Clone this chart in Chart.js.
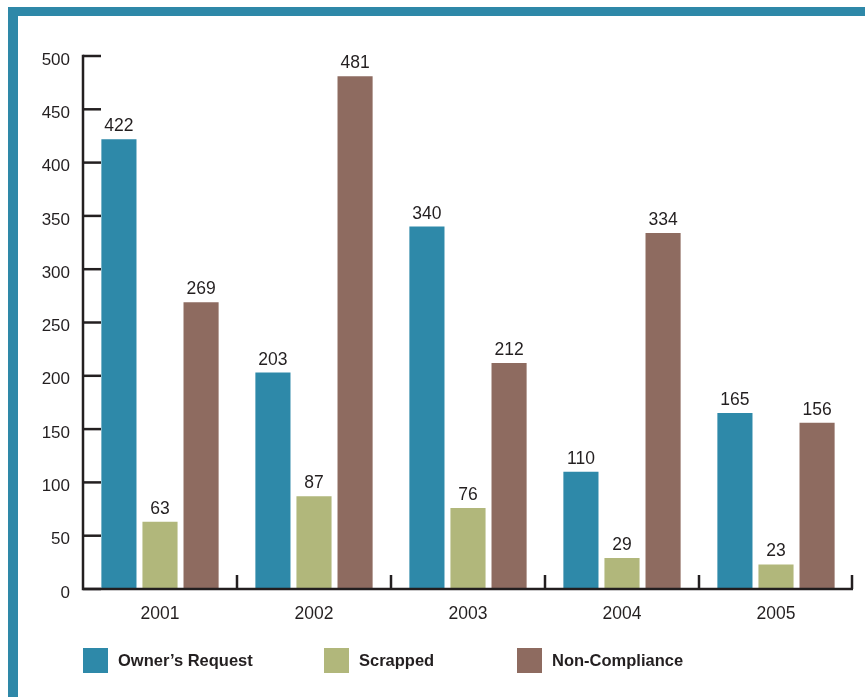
<!DOCTYPE html>
<html>
<head>
<meta charset="utf-8">
<script src="https://cdn.jsdelivr.net/npm/chart.js@4.4.0/dist/chart.umd.min.js"></script>
<style>
  html, body { margin: 0; padding: 0; background: #fff; }
  #wrap { position: relative; width: 865px; height: 697px; overflow: hidden; background: #fff; }
  #frameTop { position: absolute; left: 8px; top: 7px; width: 857px; height: 9px; background: #2E88A8; }
  #frameLeft { position: absolute; left: 8px; top: 7px; width: 10px; height: 690px; background: #2E88A8; }
  #c { position: absolute; left: 0; top: 0; }
  #legend { position: absolute; top: 648px; left: 0; width: 865px; height: 26px;
            font-family: "Liberation Sans", Arial, sans-serif; font-weight: bold; font-size: 16.5px; color: #231f20; }
  .item { position: absolute; top: 0; height: 25px; display: flex; align-items: center; }
  .sw { width: 25px; height: 25px; margin-right: 10px; }
</style>
</head>
<body>
<div id="wrap">
  <div id="frameTop"></div>
  <div id="frameLeft"></div>
  <canvas id="c" width="865" height="697"></canvas>
  <div id="legend"></div>
</div>
<script>
const years = ['2001', '2002', '2003', '2004', '2005'];
const ownersRequest = [422, 203, 340, 110, 165];
const scrapped = [63, 87, 76, 29, 23];
const nonCompliance = [269, 481, 212, 334, 156];
const seriesNames = ['Owner\u2019s Request', 'Scrapped', 'Non-Compliance'];
const seriesColors = ['#2E89A9', '#B1B77B', '#8E6B60'];
const yTicks = [0, 50, 100, 150, 200, 250, 300, 350, 400, 450, 500];

const INK = '#231f20';
const FONT = '"Liberation Sans", Arial, sans-serif';

const axisDecor = {
  id: 'axisDecor',
  beforeDatasetsDraw(chart) {
    const ctx = chart.ctx;
    const y = chart.scales.y, x = chart.scales.x;
    ctx.save();
    ctx.strokeStyle = INK;
    ctx.lineWidth = 2.5;
    // inward y ticks
    yTicks.forEach(v => {
      const py = y.getPixelForValue(v);
      ctx.beginPath();
      ctx.moveTo(x.left, py);
      ctx.lineTo(x.left + 18, py);
      ctx.stroke();
    });
    // x category separators going up
    for (let i = 0; i < years.length; i++) {
      let bx;
      if (i + 1 < years.length) bx = (x.getPixelForValue(i) + x.getPixelForValue(i + 1)) / 2;
      else bx = x.right - 1;
      ctx.beginPath();
      ctx.moveTo(bx, y.bottom);
      ctx.lineTo(bx, y.bottom - 14);
      ctx.stroke();
    }
    ctx.restore();
  },
  afterDatasetsDraw(chart) {
    const ctx = chart.ctx;
    const y = chart.scales.y, x = chart.scales.x;
    ctx.save();
    ctx.strokeStyle = INK;
    ctx.lineWidth = 2.5;
    ctx.beginPath();
    ctx.moveTo(x.left, y.top - 1.2);
    ctx.lineTo(x.left, y.bottom);
    ctx.lineTo(x.right, y.bottom);
    ctx.stroke();
    // value labels
    ctx.fillStyle = INK;
    ctx.font = '17.5px ' + FONT;
    ctx.textAlign = 'center';
    ctx.textBaseline = 'alphabetic';
    chart.data.datasets.forEach((ds, di) => {
      const meta = chart.getDatasetMeta(di);
      meta.data.forEach((bar, i) => {
        ctx.fillText(String(ds.data[i]), bar.x, bar.y - 8);
      });
    });
    ctx.restore();
  }
};

const chart = new Chart(document.getElementById('c'), {
  type: 'bar',
  data: {
    labels: years,
    datasets: [
      { label: seriesNames[0], data: ownersRequest, backgroundColor: seriesColors[0] },
      { label: seriesNames[1], data: scrapped, backgroundColor: seriesColors[1] },
      { label: seriesNames[2], data: nonCompliance, backgroundColor: seriesColors[2] }
    ]
  },
  options: {
    responsive: false,
    animation: false,
    devicePixelRatio: 1,
    layout: { padding: { left: 0, right: 12, top: 56, bottom: 0 } },
    datasets: { bar: { categoryPercentage: 0.8, barPercentage: 0.855 } },
    plugins: { legend: { display: false }, tooltip: { enabled: false } },
    scales: {
      x: {
        grid: { display: false, drawTicks: false },
        border: { display: false },
        ticks: { color: INK, font: { family: FONT, size: 17.5 }, padding: 15 },
        afterFit(s) { s.height = 108; }
      },
      y: {
        min: 0, max: 500,
        afterBuildTicks(s) { s.ticks = yTicks.map(v => ({ value: v })); },
        grid: { display: false, drawTicks: false },
        border: { display: false },
        ticks: { color: INK, font: { family: FONT, size: 17 }, padding: 13, labelOffset: 4 },
        afterFit(s) { s.width = 83; }
      }
    }
  },
  plugins: [axisDecor]
});

// legend
const legend = document.getElementById('legend');
const legendLeft = [83, 324, 517];
seriesNames.forEach((n, i) => {
  const it = document.createElement('div');
  it.className = 'item';
  it.style.left = legendLeft[i] + 'px';
  const sw = document.createElement('div');
  sw.className = 'sw';
  sw.style.background = seriesColors[i];
  const t = document.createElement('span');
  t.textContent = n;
  it.appendChild(sw); it.appendChild(t);
  legend.appendChild(it);
});
</script>
</body>
</html>
